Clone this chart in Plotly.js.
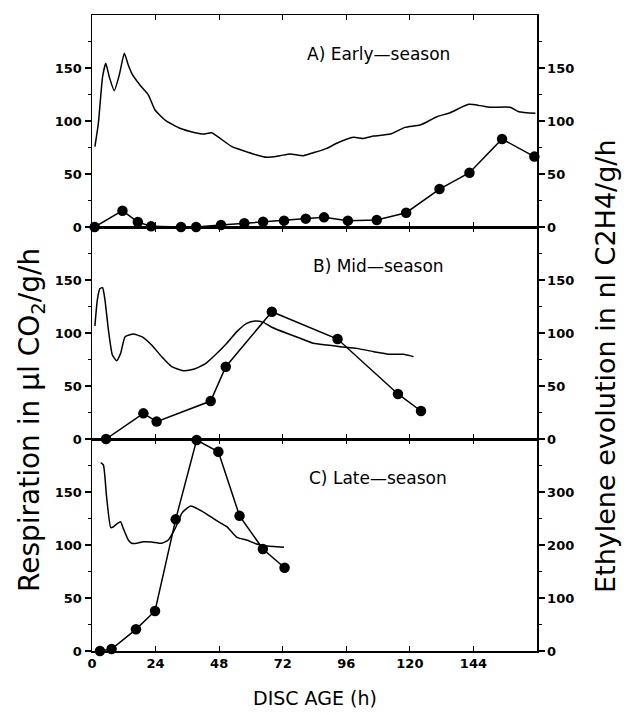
<!DOCTYPE html>
<html><head><meta charset="utf-8">
<script src="https://cdn.plot.ly/plotly-3.0.1.min.js"></script>
<style>html,body{margin:0;padding:0;background:#fff}</style>
</head><body>
<div id="chart" style="width:626px;height:715px"></div>
<script>
// Panel A (early season)
const aRespX = [1.1,2.4,4.0,5.2,6.5,8.4,10.3,12.2,13.7,15.0,18.1,21.3,23.8,27.6,33.2,38.9,42.1,45.2,48.4,52.8,57.2,62.2,66,71,74.8,79.8,83.6,88.7,92.4,98.7,102.5,106.3,112.6,118.2,123.9,130.2,135.2,142.2,146.6,150.4,157.9,161.1,167.4];
const aRespY = [75.8,97.8,141.8,154.4,141.8,128.6,143.4,163.8,152.8,145,134,124.5,110.4,100.9,93.1,89,87.7,89,83.6,75.8,72,67.9,65.7,67.3,68.9,67.3,70.1,74.2,79,84.6,83.6,85.8,87.7,94,96.2,104,107.8,115.7,114.5,112.9,112.9,108.8,107.2];
const aEthX = [1,11.5,17.3,22.3,33.6,39.3,48.7,57.5,64.6,72.5,80.7,87.6,96.6,107.5,118.6,131.2,142.5,154.8,167];
const aEthY = [0,15.4,4.7,0.6,0,0,1.9,3.5,5,6,7.9,9.1,6,6.6,13.5,35.8,51.2,83,66.4];
// Panel B (mid season)
const bRespX = [1.1,2.0,3.0,4.0,4.9,6.2,7.7,9.3,10.8,12.5,15.6,18.8,22.5,26.3,30.1,34.5,38.3,42.7,46.5,50.9,54.7,58.4,61.6,64.7,67.9,73.5,78.6,83.6,88.7,93.7,100,106.3,112.6,117.6,121.4];
const bRespY = [106.6,131,142,142.7,131,102.8,79.2,73.9,80.8,96.5,99,96.5,88.7,77.7,68.2,64.5,65.8,70.8,79.2,90.3,101.3,109.1,111.3,110,105.4,99.7,95,90.3,88.7,87.1,85.5,82.4,79.9,79.9,77.7];
const bEthX = [5.3,19.4,24.4,44.8,50.5,67.9,92.7,115.5,124.2];
const bEthY = [0,24.2,16.4,35.8,68.2,120.1,94.3,42.5,26.4];
// Panel C (late season)
const cRespX = [3.3,4.3,5.5,7.1,8.1,9.6,10.8,11.8,13.7,15,16.9,19.4,22.5,26.3,28.8,31.4,33.9,35.8,37.3,39.5,43.3,47.1,50.9,54.7,58.4,62.2,66,69.8,72.5];
const cRespY = [177.7,175.5,145.6,116.3,117.2,120.4,122,115.7,104.7,101.6,101.6,103.1,102.8,101.6,104.7,115.7,129.9,134.6,136.8,134.6,129.2,122.9,117.3,107.2,104.7,100.9,99,98.4,97.8];
const cEthX = [3.0,7.4,16.6,23.8,31.6,39.5,47.7,55.7,64.5,72.7];
const cEthY = [0,3.8,40.9,75.5,248.4,398,376,255,192.5,157];

const xTicks = [0,24,48,72,96,120,144];
const leftTicks = [0,50,100,150];
const leftMinor = [25,75,125,175];
const rightTicksC = [0,100,200,300];
const rightMinorC = [50,150,250,350];
const panelLabels = ['A) Early\u2014season','B) Mid\u2014season','C) Late\u2014season'];

const FONT = 'DejaVu Sans, sans-serif';
function resp(x,y,xa,ya){return {x:x,y:y,xaxis:xa,yaxis:ya,mode:'lines',line:{color:'#000',width:1.5,shape:'spline',smoothing:0.5},hoverinfo:'skip',showlegend:false};}
function eth(x,y,xa,ya){return {x:x,y:y,xaxis:xa,yaxis:ya,mode:'lines+markers',cliponaxis:false,line:{color:'#000',width:1.5},marker:{color:'#000',size:10.5},hoverinfo:'skip',showlegend:false};}

const data = [
  resp(aRespX,aRespY,'x','y'), eth(aEthX,aEthY,'x','y4'),
  resp(bRespX,bRespY,'x2','y2'), eth(bEthX,bEthY,'x2','y5'),
  resp(cRespX,cRespY,'x3','y3'), eth(cEthX,cEthY,'x3','y6')
];

const tickFont = {family:FONT, size:13, color:'#000', weight:700};
function xax(anchor, labels){
  return {domain:[0,1],anchor:anchor,range:[0,168],tickvals:xTicks,ticks:'inside',ticklen:5,tickwidth:1.2,tickcolor:'#000',
    showticklabels:labels,tickfont:tickFont,showline:true,linecolor:'#000',linewidth:1.5,mirror:'ticks',showgrid:false,zeroline:false,fixedrange:true};
}
function yax(domain, anchor, range, tv, mv, side, overlay){
  const o = {anchor:anchor,range:range,tickvals:tv,ticks:'outside',ticklen:6,tickwidth:1.2,tickcolor:'#000',tickfont:tickFont,
    minor:{tickvals:mv,ticks:'outside',ticklen:3,tickwidth:1,tickcolor:'#000'},
    showline:true,linecolor:'#000',linewidth:1.5,showgrid:false,zeroline:false,fixedrange:true,side:side};
  if(overlay){o.overlaying = overlay;} else {o.domain = domain;}
  return o;
}
const dA=[2/3,1], dB=[1/3,2/3], dC=[0,1/3];
const layout = {
  width:626,height:715,margin:{l:92,r:89,t:15,b:64},paper_bgcolor:'#fff',plot_bgcolor:'rgba(0,0,0,0)',
  font:{family:FONT,color:'#000'},
  xaxis:xax('y',false), xaxis2:xax('y2',false), xaxis3:xax('y3',true),
  yaxis:yax(dA,'x',[0,200],leftTicks,leftMinor,'left'),
  yaxis2:yax(dB,'x2',[0,200],leftTicks,leftMinor,'left'),
  yaxis3:yax(dC,'x3',[0,200],leftTicks,leftMinor,'left'),
  yaxis4:yax(null,'x',[0,200],leftTicks,leftMinor,'right','y'),
  yaxis5:yax(null,'x2',[0,200],leftTicks,leftMinor,'right','y2'),
  yaxis6:yax(null,'x3',[0,400],rightTicksC,rightMinorC,'right','y3'),
  annotations:[
    {xref:'x',yref:'y',x:108,y:163,text:panelLabels[0],showarrow:false,font:{family:FONT,size:17,color:'#000'}},
    {xref:'x2',yref:'y2',x:108,y:163,text:panelLabels[1],showarrow:false,font:{family:FONT,size:17,color:'#000'}},
    {xref:'x3',yref:'y3',x:108,y:163,text:panelLabels[2],showarrow:false,font:{family:FONT,size:17,color:'#000'}},
    {xref:'paper',yref:'paper',x:(31-92)/445,y:(651-420)/636,xanchor:'center',yanchor:'middle',textangle:-90,showarrow:false,
     text:'Respiration in \u03bcl CO<sub>2</sub>/g/h',font:{family:FONT,size:28,color:'#000'}},
    {xref:'paper',yref:'paper',x:(606-92)/445,y:(651-366)/636,xanchor:'center',yanchor:'middle',textangle:-90,showarrow:false,
     text:'Ethylene evolution in nl C2H4/g/h',font:{family:FONT,size:27,color:'#000'}},
    {xref:'paper',yref:'paper',x:0.5,y:(651-698)/636,xanchor:'center',yanchor:'middle',showarrow:false,
     text:'DISC AGE (h)',font:{family:FONT,size:19,color:'#000'}}
  ]
};
Plotly.newPlot('chart',data,layout,{staticPlot:true,displayModeBar:false});
</script>
</body></html>
